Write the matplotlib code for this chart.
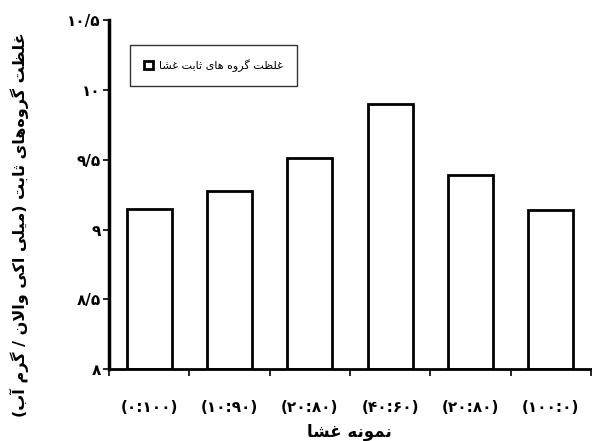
import matplotlib
matplotlib.use("Agg")
import matplotlib.pyplot as plt

# ---------------- data ----------------
categories = ["(۰:۱۰۰)", "(۱۰:۹۰)", "(۲۰:۸۰)", "(۴۰:۶۰)", "(۲۰:۸۰)", "(۱۰۰:۰)"]
values = [9.15, 9.28, 9.51, 9.90, 9.39, 9.14]
yticks = [8, 8.5, 9, 9.5, 10, 10.5]
ytick_labels = ["۸", "۸/۵", "۹", "۹/۵", "۱۰", "۱۰/۵"]
ylabel_text = "غلظت گروه\u200cهای ثابت (میلی اکی والان / گرم آب)"
xlabel_text = "نمونه غشا"
legend_text = "غلظت گروه های ثابت غشا"

# ------------- minimal Arabic/Persian shaper -------------
FORMS = {
    '\u0628': ('\uFE8F', '\uFE90', '\uFE91', '\uFE92'),
    '\u062A': ('\uFE95', '\uFE96', '\uFE97', '\uFE98'),
    '\u062B': ('\uFE99', '\uFE9A', '\uFE9B', '\uFE9C'),
    '\u063A': ('\uFECD', '\uFECE', '\uFECF', '\uFED0'),
    '\u0638': ('\uFEC5', '\uFEC6', '\uFEC7', '\uFEC8'),
    '\u0644': ('\uFEDD', '\uFEDE', '\uFEDF', '\uFEE0'),
    '\u0645': ('\uFEE1', '\uFEE2', '\uFEE3', '\uFEE4'),
    '\u0646': ('\uFEE5', '\uFEE6', '\uFEE7', '\uFEE8'),
    '\u0647': ('\uFEE9', '\uFEEA', '\uFEEB', '\uFEEC'),
    '\u06CC': ('\uFBFC', '\uFBFD', '\uFBFE', '\uFBFF'),
    '\u06A9': ('\uFB8E', '\uFB8F', '\uFB90', '\uFB91'),
    '\u06AF': ('\uFB92', '\uFB93', '\uFB94', '\uFB95'),
    '\u0634': ('\uFEB5', '\uFEB6', '\uFEB7', '\uFEB8'),
    '\u0627': ('\uFE8D', '\uFE8E'),
    '\u0622': ('\uFE81', '\uFE82'),
    '\u0631': ('\uFEAD', '\uFEAE'),
    '\u0648': ('\uFEED', '\uFEEE'),
    'LA': ('\uFEFB', '\uFEFC'),
}


def shape(text):
    toks = []
    i = 0
    while i < len(text):
        c = text[i]
        if c == '\u0644' and i + 1 < len(text) and text[i + 1] == '\u0627':
            toks.append('LA')
            i += 2
            continue
        toks.append(c)
        i += 1
    out = []
    for k, t in enumerate(toks):
        if t not in FORMS:
            if t != '\u200c':
                out.append(t)
            continue
        f = FORMS[t]
        prev = toks[k - 1] if k > 0 else None
        nxt = toks[k + 1] if k + 1 < len(toks) else None
        cp = prev is not None and prev in FORMS and len(FORMS[prev]) == 4
        cn = len(f) == 4 and nxt is not None and nxt in FORMS
        if cp and cn:
            out.append(f[3])
        elif cp:
            out.append(f[1])
        elif cn:
            out.append(f[2])
        else:
            out.append(f[0])
    vis = ''.join(reversed(out))
    vis = vis.translate(str.maketrans({'(': ')', ')': '('}))
    return vis


plt.rcParams['font.family'] = ['DejaVu Sans']

fig = plt.figure(figsize=(5.92, 4.41), dpi=100)
ax = fig.add_axes([0.184, 0.163, 0.814, 0.791])

x = list(range(len(categories)))
ax.bar(x, [v - 8 for v in values], bottom=8, width=0.56, color='white',
       edgecolor='black', linewidth=2.0, label=shape(legend_text))

ax.set_xlim(-0.5, len(categories) - 0.5)
ax.set_ylim(8, 10.5)

ax.set_yticks(yticks)
ax.set_yticklabels(ytick_labels, fontsize=11, fontweight='bold')
ax.set_xticks(x)
ax.set_xticklabels(categories, fontsize=11, fontweight='bold')
ax.set_xticks([i + 0.5 for i in range(-1, len(categories))], minor=True)
ax.tick_params(axis='x', which='major', length=0, pad=22)
ax.tick_params(axis='x', which='minor', length=5, width=1.2, direction='out')
ax.tick_params(axis='y', which='major', length=4, width=1.2, direction='out', pad=2)

for s in ['top', 'right']:
    ax.spines[s].set_visible(False)
ax.spines['left'].set_linewidth(2.5)
ax.spines['bottom'].set_linewidth(2.0)

ax.set_xlabel(shape(xlabel_text), fontsize=12, fontweight='bold', labelpad=6)
ax.set_ylabel(shape(ylabel_text), fontsize=11.5, fontweight='bold')
ax.yaxis.set_label_coords(-0.166, 0.414)

leg = ax.legend(loc='upper left', bbox_to_anchor=(0.043, 0.93), fontsize=8,
                frameon=True, fancybox=False, edgecolor='black',
                handlelength=0.8, handleheight=0.8, borderpad=1.3,
                handletextpad=0.5, borderaxespad=0)
leg.get_frame().set_linewidth(1.0)

fig.savefig('out.png', dpi=100)
